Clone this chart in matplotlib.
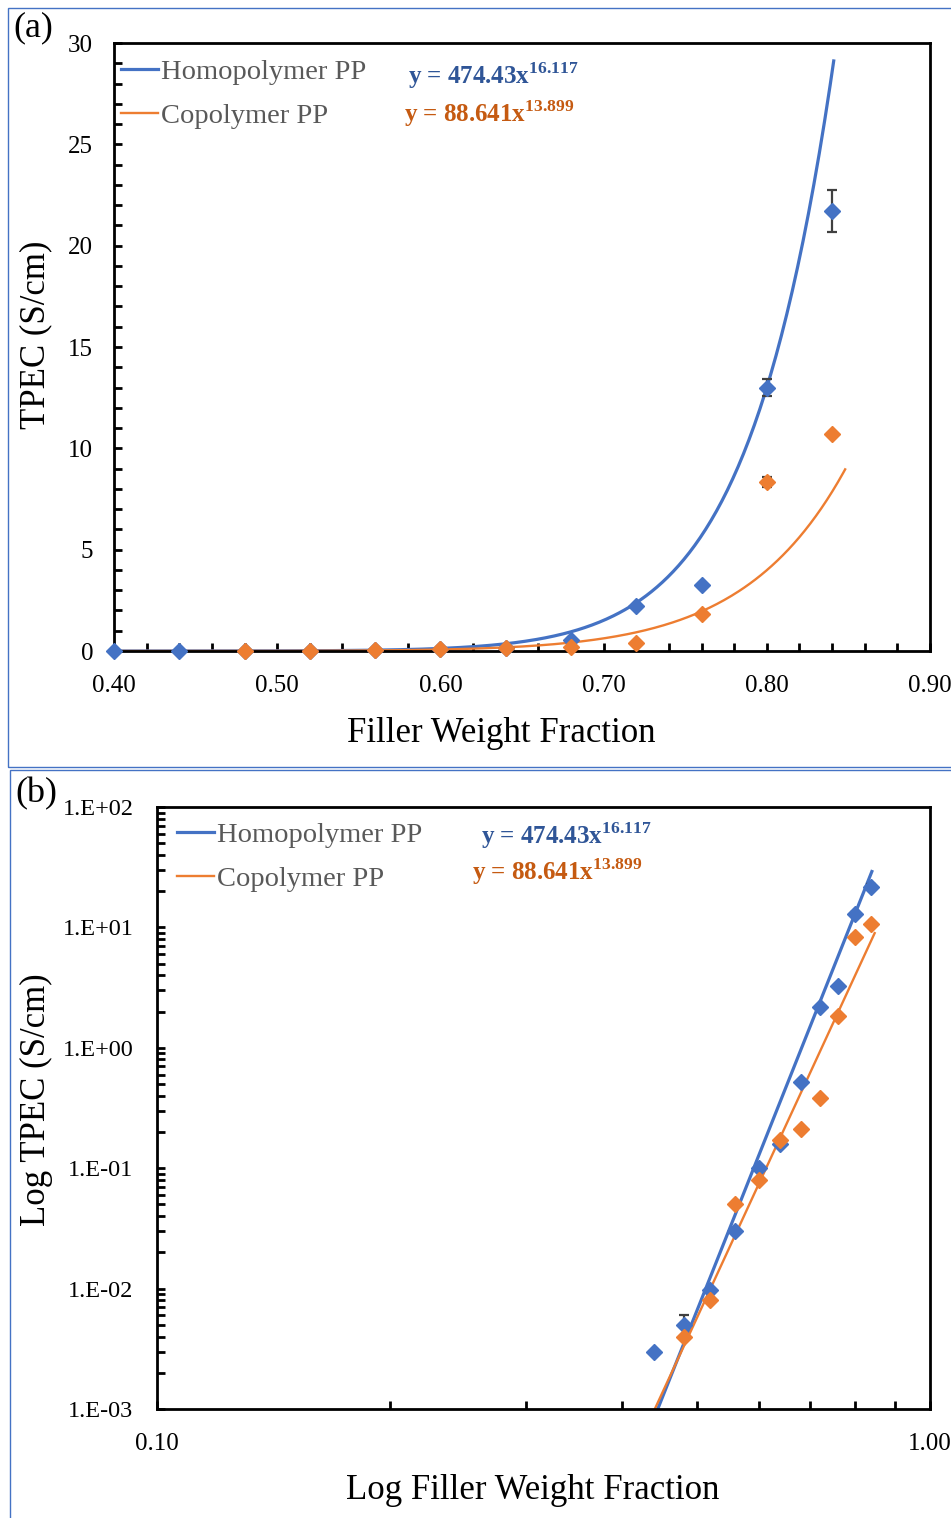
import numpy as np
import matplotlib
matplotlib.use("Agg")
import matplotlib.pyplot as plt
from matplotlib.patches import Rectangle
from matplotlib.ticker import MultipleLocator, FixedLocator, FuncFormatter, LogLocator, NullFormatter

plt.rcParams['font.family'] = ['Liberation Serif', 'DejaVu Serif']
plt.rcParams['mathtext.fontset'] = 'custom'
plt.rcParams['mathtext.rm'] = 'Liberation Serif'
plt.rcParams['mathtext.bf'] = 'Liberation Serif:bold'

# filler weight fraction
homo_x = [0.40, 0.44, 0.48, 0.52, 0.56, 0.60, 0.64, 0.68, 0.72, 0.76, 0.80, 0.84]
homo_y = [0.0004, 0.003, 0.005, 0.0098, 0.03, 0.10, 0.16, 0.52, 2.2, 3.25, 13.0, 21.7]
homo_err = [0, 0, 0.001, 0, 0, 0, 0, 0, 0, 0, 0.4, 1.03]

co_x = [0.48, 0.52, 0.56, 0.60, 0.64, 0.68, 0.72, 0.76, 0.80, 0.84]
co_y = [0.004, 0.008, 0.05, 0.08, 0.17, 0.21, 0.38, 1.85, 8.35, 10.7]
co_err = [0, 0, 0, 0, 0, 0, 0, 0, 0.25, 0]

# power-law trendlines y = a * x^b
homo_a, homo_b = 474.43, 16.117
co_a, co_b = 88.641, 13.899
homo_fit_range = (0.40, 0.841)
co_fit_range = (0.40, 0.848)

BLUE = '#4472C4'
ORANGE = '#ED7D31'
BLUE_EQ = '#2F5597'
ORANGE_EQ = '#C55A11'
GRAY = '#595959'

W, H = 951, 1518
fig = plt.figure(figsize=(W / 100, H / 100), dpi=100)

# panel frames
fig.add_artist(Rectangle((8 / W, 1 - 767 / H), 1.0, 759 / H, transform=fig.transFigure,
                         fill=False, ec=BLUE, lw=1.0))
fig.add_artist(Rectangle((10 / W, 1 - 1530 / H), 1.0, 760 / H, transform=fig.transFigure,
                         fill=False, ec=BLUE, lw=1.0))
fig.text(13 / W, 1 - 28 / H, '(a)', fontsize=26, va='center', ha='left')
fig.text(15 / W, 1 - 794 / H, '(b)', fontsize=26, va='center', ha='left')

ax1 = fig.add_axes([114 / W, 1 - 651 / H, 816 / W, 608 / H])
ax2 = fig.add_axes([157 / W, 1 - 1409 / H, 773 / W, 602 / H])


def draw(ax, clip):
    hx = np.linspace(*homo_fit_range, 400)
    cx = np.linspace(*co_fit_range, 400)
    lh, = ax.plot(hx, homo_a * hx ** homo_b, color=BLUE, lw=2.3, label='Homopolymer PP', zorder=3)
    lc, = ax.plot(cx, co_a * cx ** co_b, color=ORANGE, lw=1.7, label='Copolymer PP', zorder=3)
    for xs, ys, es, c in [(homo_x, homo_y, homo_err, BLUE), (co_x, co_y, co_err, ORANGE)]:
        eb = ax.errorbar(xs, ys, yerr=es, fmt='D', color=c, ms=8, mec=c,
                         ecolor='#404040', elinewidth=1.6, capsize=3.5, capthick=1.6, zorder=6)
        eb[0].set_clip_on(clip)
    for s in ax.spines.values():
        s.set_linewidth(2.0)
        s.set_color('black')
        s.set_zorder(5)
    return lh, lc


def legend_and_eqs(ax, lh, lc, anchor, eq1, eq2):
    leg = ax.legend(handles=[lh, lc], loc='upper left', bbox_to_anchor=anchor,
                    frameon=False, fontsize=20.5, handlelength=1.3, handletextpad=0.1,
                    labelspacing=0.62, borderaxespad=0, borderpad=0)
    for t in leg.get_texts():
        t.set_color(GRAY)
    ax.text(eq1[0], eq1[1], r'y = 474.43x$^{\mathbf{16.117}}$', transform=ax.transAxes,
            color=BLUE_EQ, fontsize=18, fontweight='bold', va='center')
    ax.text(eq2[0], eq2[1], r'y = 88.641x$^{\mathbf{13.899}}$', transform=ax.transAxes,
            color=ORANGE_EQ, fontsize=18, fontweight='bold', va='center')


# ---- (a) linear ----
lh, lc = draw(ax1, False)
ax1.set_xlim(0.40, 0.90)
ax1.set_ylim(0, 30)
ax1.xaxis.set_major_locator(MultipleLocator(0.10))
ax1.xaxis.set_minor_locator(MultipleLocator(0.02))
ax1.yaxis.set_major_locator(MultipleLocator(5))
ax1.yaxis.set_minor_locator(MultipleLocator(1))
ax1.xaxis.set_major_formatter(FuncFormatter(lambda v, p: f'{v:.2f}'))
ax1.tick_params(which='both', direction='in', width=2.0, length=6, top=False, right=False)
ax1.tick_params(axis='x', labelsize=18, pad=17)
ax1.tick_params(axis='y', labelsize=18, pad=15)
ax1.set_xlabel('Filler Weight Fraction', fontsize=25)
ax1.xaxis.set_label_coords(0.474, -0.135)
ax1.xaxis.label.set_va('center')
ax1.set_ylabel('TPEC (S/cm)', fontsize=25)
ax1.yaxis.set_label_coords(-0.0956, 0.52)
ax1.yaxis.label.set_va('center')
legend_and_eqs(ax1, lh, lc, (0.009, 0.973), (0.36, 0.947), (0.355, 0.884))

# ---- (b) log-log ----
lh, lc = draw(ax2, True)
ax2.set_xscale('log')
ax2.set_yscale('log')
ax2.set_xlim(0.10, 1.00)
ax2.set_ylim(1e-3, 1e2)
ax2.xaxis.set_major_locator(FixedLocator([0.1, 1.0]))
ax2.xaxis.set_minor_locator(LogLocator(base=10, subs=np.arange(2, 10)))
ax2.xaxis.set_major_formatter(FuncFormatter(lambda v, p: f'{v:.2f}'))
ax2.xaxis.set_minor_formatter(NullFormatter())
ax2.yaxis.set_major_locator(LogLocator(base=10, numticks=10))
ax2.yaxis.set_minor_locator(LogLocator(base=10, subs=np.arange(2, 10), numticks=10))
ax2.yaxis.set_major_formatter(FuncFormatter(lambda v, p: '1.E{:+03d}'.format(int(round(np.log10(v))))))
ax2.yaxis.set_minor_formatter(NullFormatter())
ax2.tick_params(which='both', direction='in', width=2.0, length=6, top=False, right=False)
ax2.tick_params(axis='x', labelsize=18, pad=17)
ax2.tick_params(axis='y', labelsize=17.5, pad=17)
ax2.set_xlabel('Log Filler Weight Fraction', fontsize=25)
ax2.xaxis.set_label_coords(0.486, -0.1346)
ax2.xaxis.label.set_va('center')
ax2.set_ylabel('Log TPEC (S/cm)', fontsize=25)
ax2.yaxis.set_label_coords(-0.1565, 0.513)
ax2.yaxis.label.set_va('center')
legend_and_eqs(ax2, lh, lc, (0.026, 0.975), (0.419, 0.953), (0.4075, 0.893))

fig.savefig('out.png', dpi=100)
